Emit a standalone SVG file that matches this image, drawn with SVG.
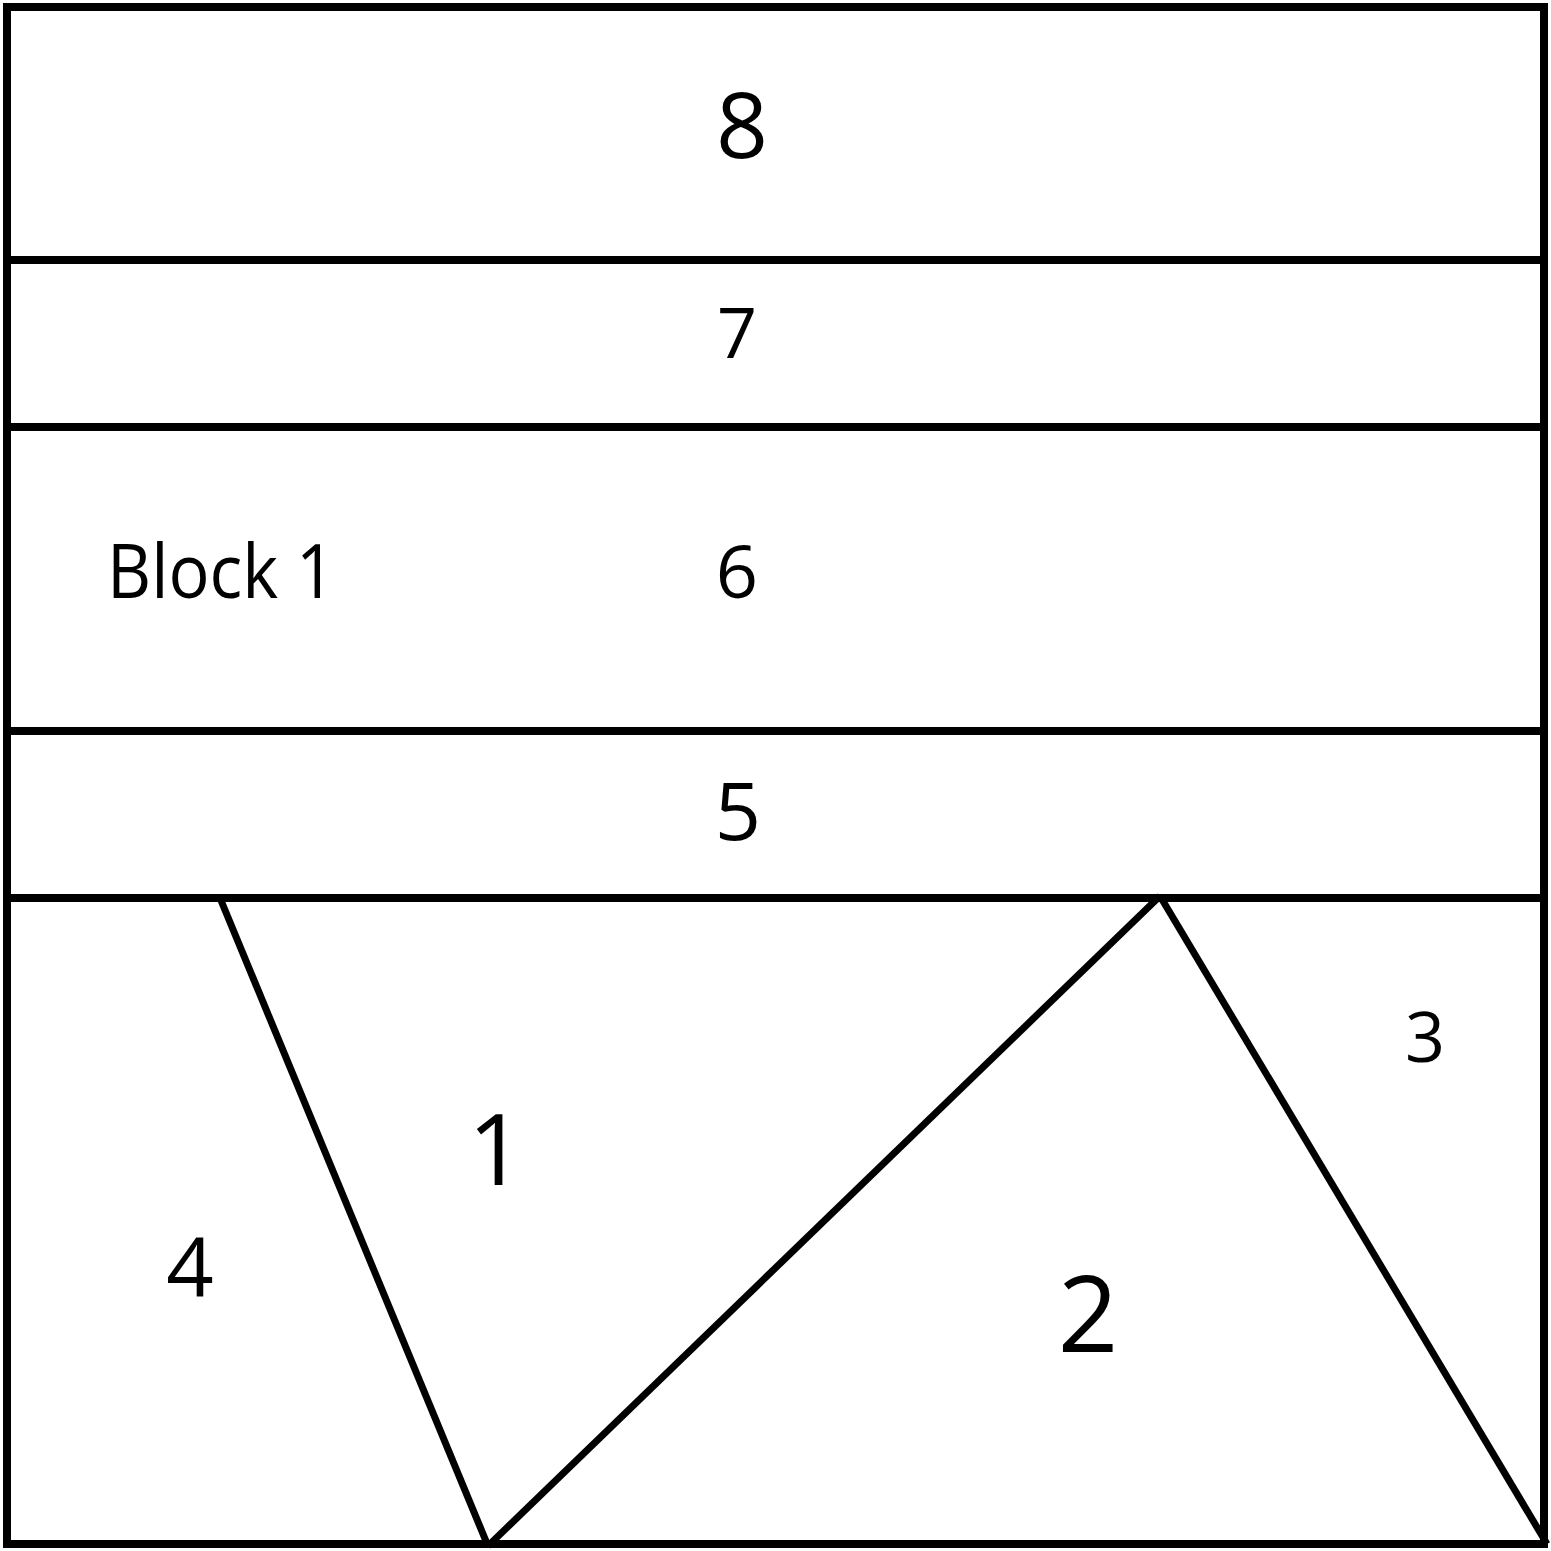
<svg xmlns="http://www.w3.org/2000/svg" width="1551" height="1551" viewBox="0 0 1551 1551">
<style>
.ln{stroke:#000;stroke-width:8;fill:none}
.dg{stroke:#000;stroke-width:7;fill:none}
text{font-family:"Open Sans","Noto Sans",sans-serif;fill:#000;text-anchor:middle}
</style>
<rect x="0" y="0" width="1551" height="1551" fill="#fff"/>
<g id="lines">
<line class="ln" x1="7" y1="260" x2="1544" y2="260"/>
<line class="ln" x1="7" y1="427" x2="1544" y2="427"/>
<line class="ln" x1="7" y1="731" x2="1544" y2="731"/>
<line class="ln" x1="7" y1="898" x2="1544" y2="898"/>
<line class="dg" x1="220" y1="898" x2="488" y2="1546"/>
<line class="dg" x1="488" y1="1546" x2="1160" y2="896"/>
<line class="dg" x1="1160" y1="896" x2="1547" y2="1544"/>
<rect class="ln" x="7" y="7" width="1537" height="1537"/>
</g>
<g id="labels">
<text x="742" y="158" font-size="91">8</text>
<text x="737" y="358" font-size="70">7</text>
<text x="737" y="598" font-size="74">6</text>
<text x="221" y="598" font-size="75" textLength="228" lengthAdjust="spacingAndGlyphs">Block 1</text>
<text x="738" y="840" font-size="81">5</text>
<text x="496" y="1185" font-size="98">1</text>
<text x="190" y="1297" font-size="83">4</text>
<text x="1088" y="1352" font-size="106">2</text>
<text x="1425" y="1062" font-size="70">3</text>
</g>
</svg>
